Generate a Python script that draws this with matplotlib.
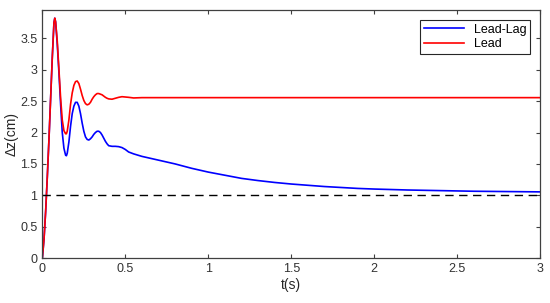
import numpy as np
import matplotlib
matplotlib.use('Agg')
from matplotlib import pyplot as plt
from matplotlib.ticker import FuncFormatter

# time axis (s)
t = [0, 0.01, 0.02, 0.03, 0.04, 0.05, 0.06, 0.07, 0.075, 0.08,
     0.09, 0.10, 0.11, 0.12, 0.13, 0.14, 0.145, 0.15, 0.16, 0.17,
     0.18, 0.19, 0.20, 0.21, 0.22, 0.23, 0.24, 0.25, 0.26, 0.27,
     0.28, 0.29, 0.30, 0.31, 0.32, 0.33, 0.34, 0.35, 0.36, 0.37,
     0.38, 0.39, 0.40, 0.42, 0.44, 0.46, 0.48, 0.50, 0.52, 0.55,
     0.60, 0.70, 0.80, 0.90, 1.0, 1.1, 1.2, 1.3, 1.4, 1.5,
     1.6, 1.7, 1.8, 1.9, 2.0, 2.2, 2.4, 2.6, 2.8, 3.0]

lead_lag = [0, 0.3, 0.75, 1.3, 1.9, 2.55, 3.2, 3.75, 3.82, 3.76,
            3.4, 2.95, 2.45, 2.0, 1.75, 1.64, 1.63, 1.67, 1.85, 2.1,
            2.3, 2.42, 2.48, 2.48, 2.42, 2.3, 2.15, 2.02, 1.93, 1.89,
            1.88, 1.9, 1.93, 1.97, 2.0, 2.02, 2.02, 2.0, 1.96, 1.91,
            1.86, 1.82, 1.79, 1.78, 1.78, 1.775, 1.76, 1.73, 1.69, 1.66,
            1.62, 1.56, 1.5, 1.43, 1.37, 1.32, 1.27, 1.235, 1.205, 1.18,
            1.16, 1.14, 1.125, 1.11, 1.10, 1.085, 1.075, 1.065, 1.06, 1.055]

lead = [0, 0.3, 0.75, 1.3, 1.9, 2.55, 3.2, 3.75, 3.82, 3.76,
        3.45, 3.0, 2.55, 2.2, 2.03, 1.98, 1.98, 2.02, 2.2, 2.45,
        2.63, 2.75, 2.81, 2.82, 2.78, 2.69, 2.59, 2.51, 2.46, 2.44,
        2.45, 2.48, 2.53, 2.57, 2.6, 2.62, 2.62, 2.61, 2.6, 2.58,
        2.56, 2.545, 2.535, 2.53, 2.545, 2.56, 2.57, 2.565, 2.56, 2.55,
        2.555, 2.555, 2.555, 2.555, 2.555, 2.555, 2.555, 2.555, 2.555, 2.555,
        2.555, 2.555, 2.555, 2.555, 2.555, 2.555, 2.555, 2.555, 2.555, 2.555]

reference = 1.0

plt.rcParams['font.family'] = ['Liberation Sans', 'DejaVu Sans']

fig = plt.figure(figsize=(5.5, 3.03), dpi=100)
ax = fig.add_axes([0.077, 0.148, 0.905, 0.819])

ax.plot(t, lead_lag, color='#0000ff', lw=1.2, label='Lead-Lag')
ax.plot(t, lead, color='#ff0000', lw=1.2, label='Lead')
ax.axhline(reference, color='black', lw=1.0, dashes=(6, 4))

ax.set_xlim(0, 3)
ax.set_ylim(0, 3.95)
ax.set_xticks(np.arange(0, 3.01, 0.5))
ax.set_yticks(np.arange(0, 3.51, 0.5))
fmt = FuncFormatter(lambda v, p: '%g' % v)
ax.xaxis.set_major_formatter(fmt)
ax.yaxis.set_major_formatter(fmt)
ax.tick_params(direction='in', top=True, right=True, length=3,
               labelsize=9, colors='#404040', labelcolor='#333333')
for s in ax.spines.values():
    s.set_color('#404040')
    s.set_linewidth(0.9)

ax.set_xlabel('t(s)', fontsize=10, color='#262626', labelpad=2)
ax.set_ylabel('\u0394z(cm)', fontsize=10, color='#262626', labelpad=1)

leg = ax.legend(loc='upper right', fontsize=9, fancybox=False,
                framealpha=1, edgecolor='#262626', handlelength=3.2,
                borderpad=0.3, labelspacing=0.2, borderaxespad=0.8)
leg.get_frame().set_linewidth(0.8)

fig.savefig('out.png', dpi=100)
